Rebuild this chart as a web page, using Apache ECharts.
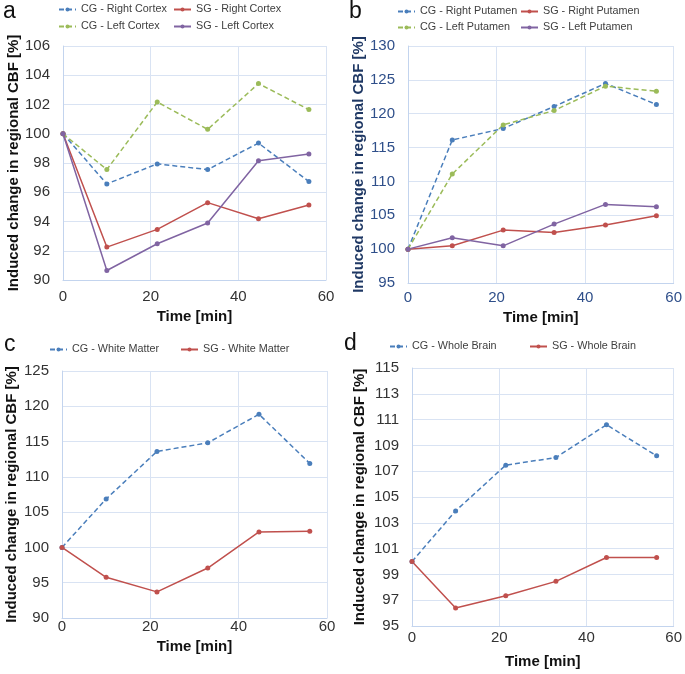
<!DOCTYPE html>
<html>
<head>
<meta charset="utf-8">
<script src="https://cdn.jsdelivr.net/npm/echarts@6/dist/echarts.min.js"></script>
<style>
html,body{margin:0;padding:0;background:#fff;}
#chart{width:685px;height:674px;}
</style>
</head>
<body>
<div id="chart"></div>
<script>
// ---- Data ----
const times = [0, 10, 21.5, 33, 44.6, 56.1];
const xTicks = [0, 20, 40, 60];

// Panel a (Cortex)
const cgRightCortex = [100, 96.57, 97.94, 97.55, 99.36, 96.73];
const sgRightCortex = [100, 92.25, 93.46, 95.29, 94.19, 95.13];
const cgLeftCortex  = [100, 97.55, 102.17, 100.3, 103.43, 101.65];
const sgLeftCortex  = [100, 90.65, 92.48, 93.9, 98.15, 98.61];

// Panel b (Putamen)
const cgRightPutamen = [100, 116.13, 117.81, 121.07, 124.47, 121.36];
const sgRightPutamen = [100, 100.49, 102.81, 102.47, 103.55, 104.93];
const cgLeftPutamen  = [100, 111.1, 118.35, 120.47, 124.07, 123.33];
const sgLeftPutamen  = [100, 101.68, 100.49, 103.7, 106.61, 106.27];

// Panel c (White Matter)
const cgWhiteMatter = [100, 106.87, 113.6, 114.82, 118.87, 111.9];
const sgWhiteMatter = [100, 95.77, 93.7, 97.08, 102.2, 102.3];

// Panel d (Whole Brain)
const cgWholeBrain = [100, 103.92, 107.47, 108.06, 110.6, 108.19];
const sgWholeBrain = [100, 96.4, 97.35, 98.46, 100.31, 100.31];

// y-axis ranges per panel: [min, max, interval]
const yRangeA = [90, 106, 2];
const yRangeB = [95, 130, 5];
const yRangeC = [90, 125, 5];
const yRangeD = [95, 115, 2];

const panelLabels = ['a', 'b', 'c', 'd'];
const yTitle = 'Induced change in regional CBF [%]';
const xTitle = 'Time [min]';

// ---- Styling ----
const FONT = '"Liberation Sans", Arial, sans-serif';
const BLUE = '#4A7EBB', RED = '#C0504D', GREEN = '#9BBB59', PURPLE = '#8064A2';
const GRIDC = '#D9E3F3', AXISC = '#C3D4EE';

const grids = [
  {left: 63, top: 46, width: 263, height: 234},
  {left: 408, top: 46, width: 267, height: 237},
  {left: 62, top: 371, width: 265, height: 247},
  {left: 412, top: 368, width: 263, height: 258}
];
const xLabelMargin = [9, 7, 1, 4];
const xNameGap = [29, 27, 21, 28];
const yNameGap = [34, 40, 43, 45];
const yRanges = [yRangeA, yRangeB, yRangeC, yRangeD];
const tickColors = ['#333', '#2F4F8A', '#333', '#333'];
const yTitleColors = ['#111', '#1F3864', '#111', '#111'];

function pairs(vals){ return times.map((t,i)=>[t, vals[i]]); }

const xAxis = grids.map((g,i)=>({
  type:'value', gridIndex:i, min:xTicks[0], max:xTicks[xTicks.length-1], interval:xTicks[1]-xTicks[0],
  name:xTitle, nameLocation:'middle', nameGap:xNameGap[i],
  nameTextStyle:{fontFamily:FONT, fontWeight:'bold', fontSize:15, color:'#111'},
  axisLine:{show:true, lineStyle:{color:AXISC, width:1}},
  axisTick:{show:false},
  axisLabel:{fontFamily:FONT, fontSize:15, color:tickColors[i], margin:xLabelMargin[i]},
  splitLine:{show:true, lineStyle:{color:GRIDC, width:1}}
}));

const yAxis = grids.map((g,i)=>({
  type:'value', gridIndex:i, min:yRanges[i][0], max:yRanges[i][1], interval:yRanges[i][2],
  name:yTitle, nameLocation:'middle', nameGap:yNameGap[i],
  nameTextStyle:{fontFamily:FONT, fontWeight:'bold', fontSize:15, color:yTitleColors[i]},
  axisLine:{show:true, lineStyle:{color:AXISC, width:1}},
  axisTick:{show:false},
  axisLabel:{fontFamily:FONT, fontSize:15, color:tickColors[i], margin:13},
  splitLine:{show:true, lineStyle:{color:GRIDC, width:1}}
}));

function mk(name, vals, idx, color, dashed){
  return {
    name, type:'line', xAxisIndex:idx, yAxisIndex:idx, data:pairs(vals),
    symbol:'circle', symbolSize:5, showSymbol:true,
    itemStyle:{color},
    lineStyle:{color, width:1.5, type: dashed ? [5,3] : 'solid'},
    emphasis:{disabled:true}, animation:false
  };
}

const series = [
  mk('CG - Right Cortex', cgRightCortex, 0, BLUE, true),
  mk('CG - Left Cortex', cgLeftCortex, 0, GREEN, true),
  mk('SG - Right Cortex', sgRightCortex, 0, RED, false),
  mk('SG - Left Cortex', sgLeftCortex, 0, PURPLE, false),
  mk('CG - Right Putamen', cgRightPutamen, 1, BLUE, true),
  mk('CG - Left Putamen', cgLeftPutamen, 1, GREEN, true),
  mk('SG - Right Putamen', sgRightPutamen, 1, RED, false),
  mk('SG - Left Putamen', sgLeftPutamen, 1, PURPLE, false),
  mk('CG - White Matter', cgWhiteMatter, 2, BLUE, true),
  mk('SG - White Matter', sgWhiteMatter, 2, RED, false),
  mk('CG - Whole Brain', cgWholeBrain, 3, BLUE, true),
  mk('SG - Whole Brain', sgWholeBrain, 3, RED, false)
];

// legend placements: [name, left, centerY]
const legendPos = [
  ['CG - Right Cortex', 58, 9], ['SG - Right Cortex', 173, 9],
  ['CG - Left Cortex', 58, 26], ['SG - Left Cortex', 173, 26],
  ['CG - Right Putamen', 397, 11], ['SG - Right Putamen', 520, 11],
  ['CG - Left Putamen', 397, 27], ['SG - Left Putamen', 520, 27],
  ['CG - White Matter', 49, 349], ['SG - White Matter', 180, 349],
  ['CG - Whole Brain', 389, 346], ['SG - Whole Brain', 529, 346]
];
const legend = legendPos.map(([n,l,cy])=>({
  data:[n], left:l, top:cy-5, padding:0, itemWidth:17, itemHeight:5, itemGap:0,
  selectedMode:false,
  textStyle:{fontFamily:FONT, fontSize:10.8, color:'#404040'}
}));

const labelPos = [[3, 0], [349, 0], [4, 333], [344, 332]];
const graphic = panelLabels.map((t,i)=>({
  type:'text', left:labelPos[i][0], top:labelPos[i][1],
  style:{text:t, fontFamily:FONT, fontSize:23, fill:'#111'}
}));

const chart = echarts.init(document.getElementById('chart'), null, {renderer:'canvas'});
chart.setOption({
  animation:false,
  backgroundColor:'#fff',
  grid:grids,
  xAxis, yAxis, series, legend, graphic
});
</script>
</body>
</html>
